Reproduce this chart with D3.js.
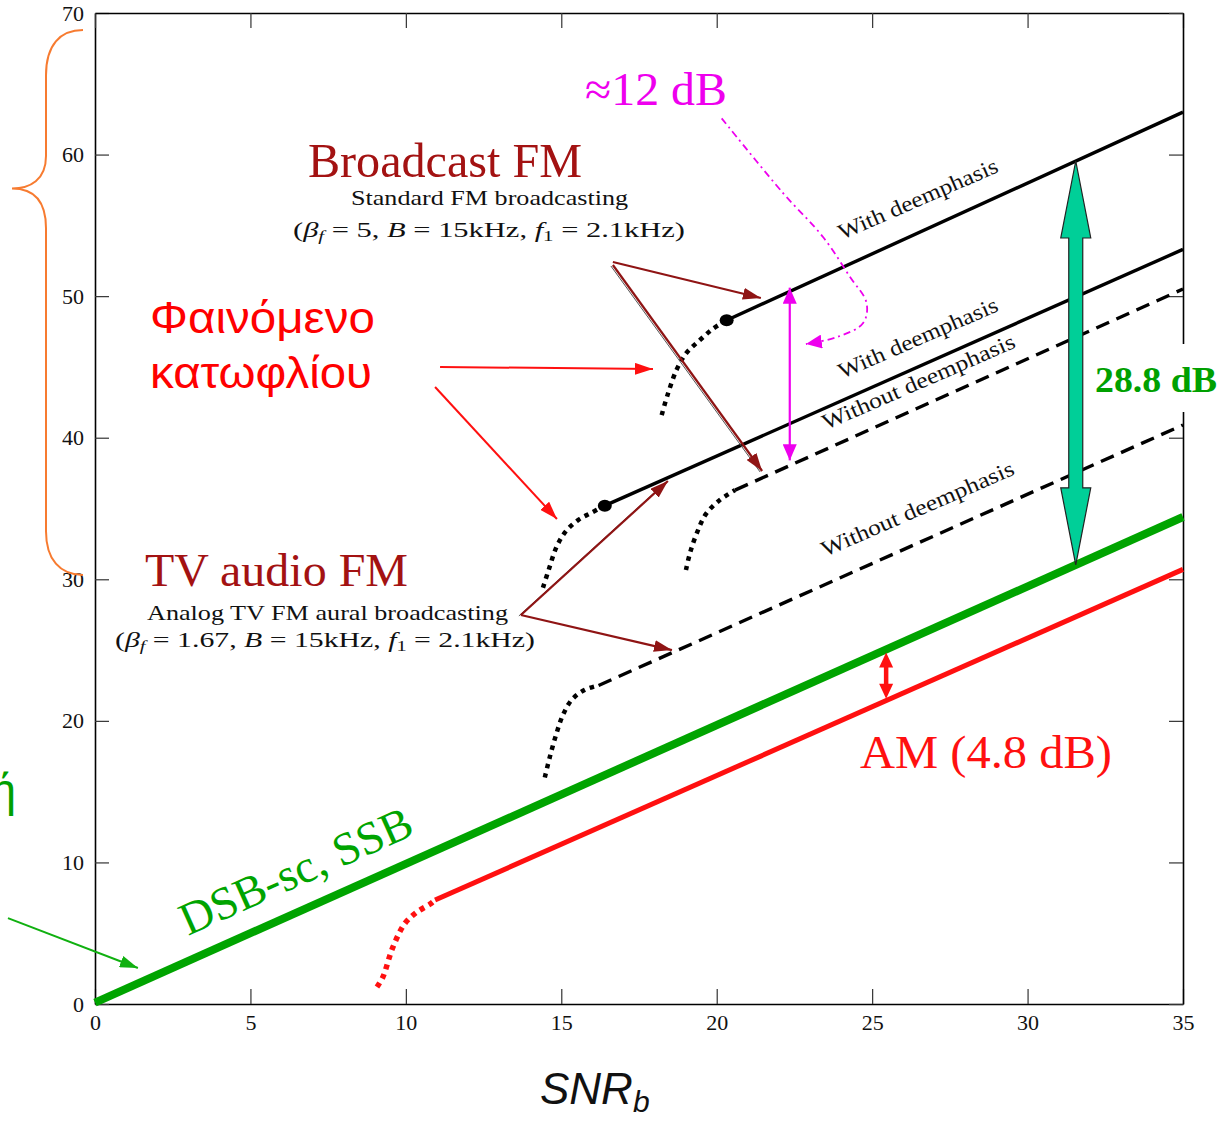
<!DOCTYPE html>
<html><head><meta charset="utf-8">
<script src="https://cdn.jsdelivr.net/npm/d3@7"></script>
<style>
html,body{margin:0;padding:0;background:#fff;}
svg{display:block;}
</style></head><body>
<svg id="chart" width="1222" height="1121"></svg>
<script>
// ---------------- data (dB) ----------------
const xTicks = [0,5,10,15,20,25,30,35];
const yTicks = [0,10,20,30,40,50,60,70];
const dsbSsb = [[0,0.1],[35,34.4]];
const amLinear = [[10.94,7.34],[35,30.7]];
const amThreshold = [[9.07,1.2],[9.26,1.9],[9.58,4.0],[9.97,5.7],[10.36,6.5],[10.78,7.06],[10.94,7.34]];
const bfmWith = [[20.32,48.3],[35,63.0]];
const bfmWithThreshold = [[18.23,41.6],[18.43,43.1],[18.71,44.8],[19.03,46.0],[19.46,46.9],[19.88,47.7],[20.32,48.3]];
const bfmWithout = [[20.59,36.3],[35,50.5]];
const bfmWithoutThreshold = [[19.01,30.65],[19.14,31.85],[19.36,33.26],[19.65,34.6],[20.1,35.6],[20.59,36.3]];
const tvWith = [[16.4,35.2],[35,53.3]];
const tvWithThreshold = [[14.41,29.4],[14.6,30.7],[14.85,32.3],[15.15,33.4],[15.55,34.2],[15.97,34.7],[16.4,35.2]];
const tvWithout = [[16.2,22.5],[35,40.9]];
const tvWithoutThreshold = [[14.47,16.0],[14.63,17.44],[14.83,19.0],[15.05,20.4],[15.34,21.5],[15.76,22.2],[16.2,22.5]];

// annotation geometry (data units)
const magentaCurve = [[20.16,62.56],[22.13,57.29],[23.42,54.18],[24.29,51.35],[24.82,49.52],[24.71,48.1],[23.87,47.11],[22.87,46.62]];
const brownArrows = [
  [[16.66,52.41],[21.42,49.87]],
  [[16.66,52.2],[21.46,37.65]],
  [[13.70,27.48],[18.43,36.94]],
  [[13.70,27.48],[18.56,25.0]]
];
const redArrows = [
  [[11.10,45.0],[17.95,44.85]],
  [[10.94,43.58],[14.86,34.26]]
];
const greenArrow = [[-2.80,6.07],[1.38,2.54]];

// ---------------- setup ----------------
const svg = d3.select("#chart");
const x = d3.scaleLinear().domain([0,35]).range([95,1183]);
const y = d3.scaleLinear().domain([0,70]).range([1004,13]);
const serif = "'Liberation Serif','Times New Roman',serif";
const sans = "'Liberation Sans',Arial,sans-serif";
const defs = svg.append("defs");
function marker(id,color,len,wid){
  defs.append("marker").attr("id",id)
    .attr("viewBox",`0 0 ${len} ${wid}`).attr("refX",len).attr("refY",wid/2)
    .attr("markerWidth",len).attr("markerHeight",wid)
    .attr("markerUnits","userSpaceOnUse").attr("orient","auto-start-reverse")
    .append("path").attr("d",`M0,0L${len},${wid/2}L0,${wid}Z`).attr("fill",color);
}
marker("mBrown","#8f1414",18,12);
marker("mRed","#ff1010",18,12);
marker("mMag","#ee00ee",16,14);
marker("mGreen","#10b010",18,12);

const line = d3.line().x(d=>x(d[0])).y(d=>y(d[1]));
const curve = d3.line().x(d=>x(d[0])).y(d=>y(d[1])).curve(d3.curveCatmullRom);

// ---------------- axes / frame ----------------
function styleAxis(g){
  g.select(".domain").attr("stroke","#000").attr("stroke-width",1.6);
  g.selectAll(".tick line").attr("stroke","#333").attr("stroke-width",1.2);
  g.selectAll(".tick text").attr("font-family",serif).attr("font-size",22).attr("fill","#111");
}
svg.append("g").attr("transform",`translate(0,${y(0)})`)
  .call(d3.axisBottom(x).tickValues(xTicks).tickSizeInner(-15).tickSizeOuter(0).tickPadding(10)).call(styleAxis);
svg.append("g").attr("transform",`translate(${x(0)},0)`)
  .call(d3.axisLeft(y).tickValues(yTicks).tickSizeInner(-14).tickSizeOuter(0).tickPadding(11)).call(styleAxis);
svg.append("g").attr("transform",`translate(0,${y(70)})`)
  .call(d3.axisTop(x).tickValues(xTicks).tickFormat(()=>"").tickSizeInner(-15).tickSizeOuter(0)).call(styleAxis);
svg.append("g").attr("transform",`translate(${x(35)},0)`)
  .call(d3.axisRight(y).tickValues(yTicks).tickFormat(()=>"").tickSizeInner(-14).tickSizeOuter(0)).call(styleAxis);

// ---------------- curves ----------------
const plot = svg.append("g");
plot.append("path").datum(dsbSsb).attr("d",line).attr("stroke","#00a400").attr("stroke-width",8).attr("fill","none");
plot.append("path").datum(amLinear).attr("d",line).attr("stroke","#ff1010").attr("stroke-width",5).attr("fill","none");
plot.append("path").datum(amThreshold).attr("d",curve).attr("stroke","#ff1010").attr("stroke-width",5.5).attr("stroke-dasharray","5,5").attr("fill","none");

[[bfmWith,bfmWithThreshold,false],[tvWith,tvWithThreshold,false],[bfmWithout,bfmWithoutThreshold,true],[tvWithout,tvWithoutThreshold,true]].forEach(([lin,thr,dashed])=>{
  plot.append("path").datum(lin).attr("d",line).attr("stroke","#000").attr("stroke-width",3.4)
    .attr("stroke-dasharray",dashed?"14,8":null).attr("fill","none");
  plot.append("path").datum(thr).attr("d",curve).attr("stroke","#000").attr("stroke-width",4.5)
    .attr("stroke-dasharray","4.5,5").attr("fill","none");
});
[bfmWith[0],tvWith[0]].forEach(p=>{
  plot.append("ellipse").attr("cx",x(p[0])).attr("cy",y(p[1])).attr("rx",7).attr("ry",6).attr("fill","#000");
});

// curve labels
function rotText(px,py,ang,txt,len,size){
  svg.append("text").attr("transform",`translate(${px},${py}) rotate(${ang})`)
    .attr("font-family",serif).attr("font-size",size||22).attr("fill","#111")
    .attr("textLength",len).attr("lengthAdjust","spacingAndGlyphs").text(txt);
}
rotText(842,240,-23.5,"With deemphasis",172);
rotText(842,379,-23.5,"With deemphasis",172);
rotText(826,430,-23.5,"Without deemphasis",208);
rotText(825,557,-23.5,"Without deemphasis",208);

// ---------------- arrows ----------------
function arrowLine(pts,color,w,mk,mkStart){
  svg.append("path").datum(pts).attr("d",line).attr("stroke",color).attr("stroke-width",w).attr("fill","none")
    .attr("marker-end",`url(#${mk})`).attr("marker-start",mkStart?`url(#${mk})`:null);
}
brownArrows.forEach((a,i)=>{
  if(i===1||i===2){
    svg.append("path").datum(a).attr("d",line).attr("transform","translate(-2,1)")
      .attr("stroke","#555").attr("stroke-width",1).attr("fill","none");
  }
  arrowLine(a,"#8f1414",2.2,"mBrown");
});
redArrows.forEach(a=>arrowLine(a,"#ff1010",2,"mRed"));
arrowLine(greenArrow,"#10b010",2,"mGreen");

// magenta
svg.append("path").datum(magentaCurve).attr("d",curve).attr("stroke","#ee00ee").attr("stroke-width",1.8)
  .attr("stroke-dasharray","7,4,2,4").attr("fill","none").attr("marker-end","url(#mMag)");
arrowLine([[22.35,50.6],[22.35,38.4]],"#ee00ee",2.2,"mMag",true);

// double block arrows
function doubleArrow(xc,yTop,yBot,headLen,headW,shaftW,fill,stroke){
  const pts = [[xc,yTop],[xc+headW/2,yTop+headLen],[xc+shaftW/2,yTop+headLen],[xc+shaftW/2,yBot-headLen],
    [xc+headW/2,yBot-headLen],[xc,yBot],[xc-headW/2,yBot-headLen],[xc-shaftW/2,yBot-headLen],
    [xc-shaftW/2,yTop+headLen],[xc-headW/2,yTop+headLen]];
  svg.append("polygon").attr("points",pts.map(p=>p.join(",")).join(" "))
    .attr("fill",fill).attr("stroke",stroke||"none").attr("stroke-width",1.2);
}
const ax = 31.55;
const at = (seg,xv)=>seg[0][1]+(xv-seg[0][0])*(seg[1][1]-seg[0][1])/(seg[1][0]-seg[0][0]);
doubleArrow(x(ax),y(at(bfmWith,ax)),y(at(dsbSsb,ax)),77,30,14,"#00cf98","#222");
const rx = 25.45;
doubleArrow(x(rx),y(at(dsbSsb,rx))+3,y(at(amLinear,rx))-2,15,14,4.5,"#ff1010");

// ---------------- texts ----------------
function txt(px,py,s,opts){
  const t = svg.append("text").attr("x",px).attr("y",py).attr("font-family",opts.font||serif)
    .attr("font-size",opts.size).attr("fill",opts.color||"#111");
  if(opts.weight) t.attr("font-weight",opts.weight);
  if(opts.style) t.attr("font-style",opts.style);
  if(opts.len) t.attr("textLength",opts.len).attr("lengthAdjust","spacingAndGlyphs");
  if(opts.anchor) t.attr("text-anchor",opts.anchor);
  if(s!==null) t.text(s);
  return t;
}
const darkRed = "#a31212";
txt(308,177,"Broadcast FM",{size:48,color:darkRed,len:274});
txt(351,205,"Standard FM broadcasting",{size:22,len:277});
function params(px,py,len,beta){
  const t = txt(px,py,null,{size:22,len:len});
  t.append("tspan").text("(");
  t.append("tspan").attr("font-style","italic").text("β");
  t.append("tspan").attr("font-style","italic").attr("font-size",15).attr("dy",4).text("f");
  t.append("tspan").attr("dy",-4).text(` = ${beta}, `);
  t.append("tspan").attr("font-style","italic").text("B");
  t.append("tspan").text(" = 15kHz, ");
  t.append("tspan").attr("font-style","italic").text("f");
  t.append("tspan").attr("font-size",15).attr("dy",4).text("1");
  t.append("tspan").attr("dy",-4).text(" = 2.1kHz)");
}
params(293,237,392,"5");
txt(145,586,"TV audio FM",{size:46,color:darkRed,len:263});
txt(147,620,"Analog TV FM aural broadcasting",{size:22,len:361});
params(115,647,420,"1.67");

txt(150,333,"Φαινόμενο",{size:44,color:"#ff0000",font:sans,len:225});
txt(150,388,"κατωφλίου",{size:44,color:"#ff0000",font:sans,len:222});

txt(585,105,"≈12 dB",{size:46,color:"#ee00ee",len:142});
txt(860,768,"AM (4.8 dB)",{size:46,color:"#ff1010",len:252});

svg.append("rect").attr("x",1088).attr("y",344).attr("width",134).attr("height",68).attr("fill","#fff");
txt(1095,392,"28.8 dB",{size:36,color:"#00a000",weight:"bold",len:122});

svg.append("text").attr("transform","translate(188,936) rotate(-24.1)")
  .attr("font-family",serif).attr("font-size",46).attr("fill","#00a400")
  .attr("textLength",250).attr("lengthAdjust","spacingAndGlyphs").text("DSB-sc, SSB");

const snr = txt(540,1104,null,{size:44,font:sans,style:"italic"});
snr.append("tspan").text("SNR");
snr.append("tspan").attr("font-size",30).attr("dy",8).text("b");

txt(16,806,"ή",{size:46,color:"#00a000",font:sans,anchor:"end"});

// orange brace
svg.append("path")
  .attr("d",`M83,${y(68.8)} C60,${y(68.8)} 46,${y(68.8)+15} 46,${y(65.6)} L46,${y(59.9)} C46,${y(58.2)} 30,${y(57.6)} 12,${y(57.6)} C30,${y(57.6)} 46,${y(57.0)} 46,${y(54.8)} L46,${y(33.4)} C46,${y(31.4)} 60,${y(30.3)} 83,${y(30.3)}`)
  .attr("stroke","#f77b30").attr("stroke-width",2).attr("fill","none");
</script>
</body></html>
